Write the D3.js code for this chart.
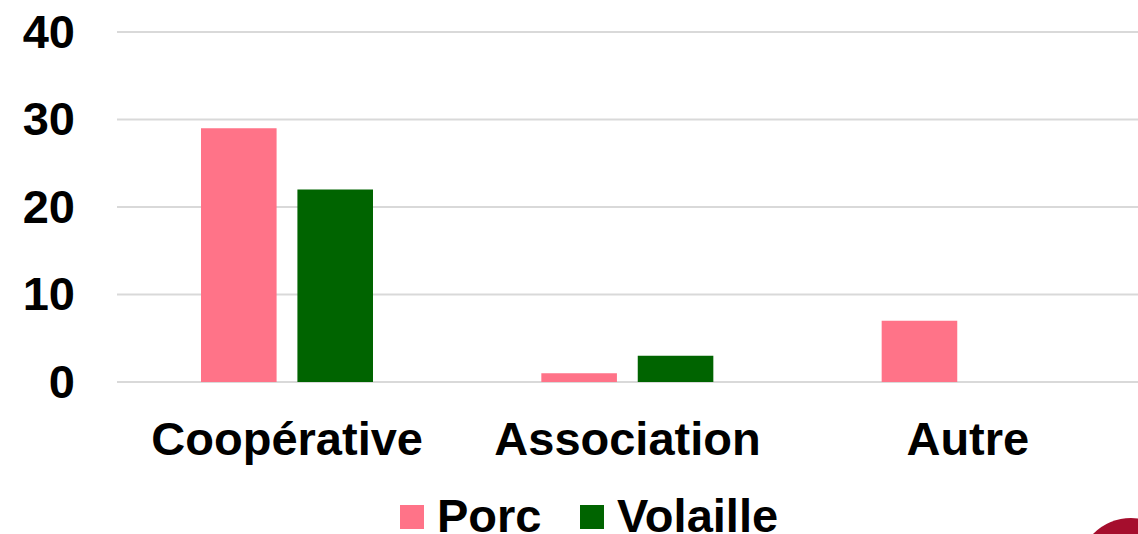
<!DOCTYPE html>
<html lang="fr">
<head>
<meta charset="UTF-8">
<script src="https://d3js.org/d3.v7.min.js"></script>
<style>
  body { margin: 0; background: white; }
  svg text { font-family: "Liberation Sans", Arial, sans-serif; font-weight: bold; fill: #000; }
</style>
</head>
<body>
<svg id="chart"></svg>
<script>
const categories = ["Coopérative", "Association", "Autre"];
const series = ["Porc", "Volaille"];
const porc = [29, 1, 7];
const volaille = [22, 3, 0];
const yTicks = [0, 10, 20, 30, 40];
const colors = ["#ff7388", "#006400"];

const w = 1138, h = 534;
const svg = d3.select("#chart").attr("width", w).attr("height", h);

const x = d3.scaleBand().domain(categories).range([117, 1138]);
const xs = d3.scaleBand().domain(series).range([84, 256]).paddingInner(0.216);
const y = d3.scaleLinear().domain([0, 40]).range([382, 32]);

// gridlines
svg.append("g").selectAll("line")
   .data(yTicks)
   .enter().append("line")
   .attr("x1", 117).attr("x2", w)
   .attr("y1", d => y(d)).attr("y2", d => y(d))
   .attr("stroke", "#d9d9d9").attr("stroke-width", 2);

// y labels
const yAxis = d3.axisLeft(y).tickValues(yTicks).tickSize(0).tickPadding(0);
const ya = svg.append("g").attr("transform", "translate(75,0)").call(yAxis);
ya.select(".domain").remove();
ya.selectAll("text").attr("font-size", 47).attr("dy", "0.32em")
  .style("font-family", "'Liberation Sans', Arial, sans-serif").style("font-weight", "bold").attr("fill", "#000");

// bars
const rows = categories.map((c, i) => ({ cat: c, vals: [porc[i], volaille[i]] }));
const groups = svg.append("g").selectAll("g")
   .data(rows)
   .enter().append("g")
   .attr("transform", d => "translate(" + x(d.cat) + ",0)");
groups.selectAll("rect")
   .data(d => d.vals.map((v, j) => ({ s: series[j], v: v, j: j })))
   .enter().append("rect")
   .attr("x", d => xs(d.s))
   .attr("width", xs.bandwidth())
   .attr("y", d => y(d.v))
   .attr("height", d => y(0) - y(d.v))
   .attr("fill", d => colors[d.j]);

// category labels
svg.append("g").selectAll("text")
   .data(categories)
   .enter().append("text")
   .attr("x", d => x(d) + x.bandwidth() / 2)
   .attr("y", 455)
   .attr("text-anchor", "middle")
   .attr("font-size", 47)
   .text(d => d);

// legend
const legX = [400, 580];
const leg = svg.append("g").selectAll("g")
   .data(series)
   .enter().append("g")
   .attr("transform", (d, i) => "translate(" + legX[i] + ",0)");
leg.append("rect").attr("x", 0).attr("y", 505).attr("width", 24).attr("height", 24)
   .attr("fill", (d, i) => colors[i]);
leg.append("text").attr("x", 37).attr("y", 532).attr("font-size", 47).text(d => d);

// decorative circle bottom right
svg.append("circle").attr("cx", 1131).attr("cy", 571).attr("r", 53).attr("fill", "#a50e2d");
</script>
</body>
</html>
